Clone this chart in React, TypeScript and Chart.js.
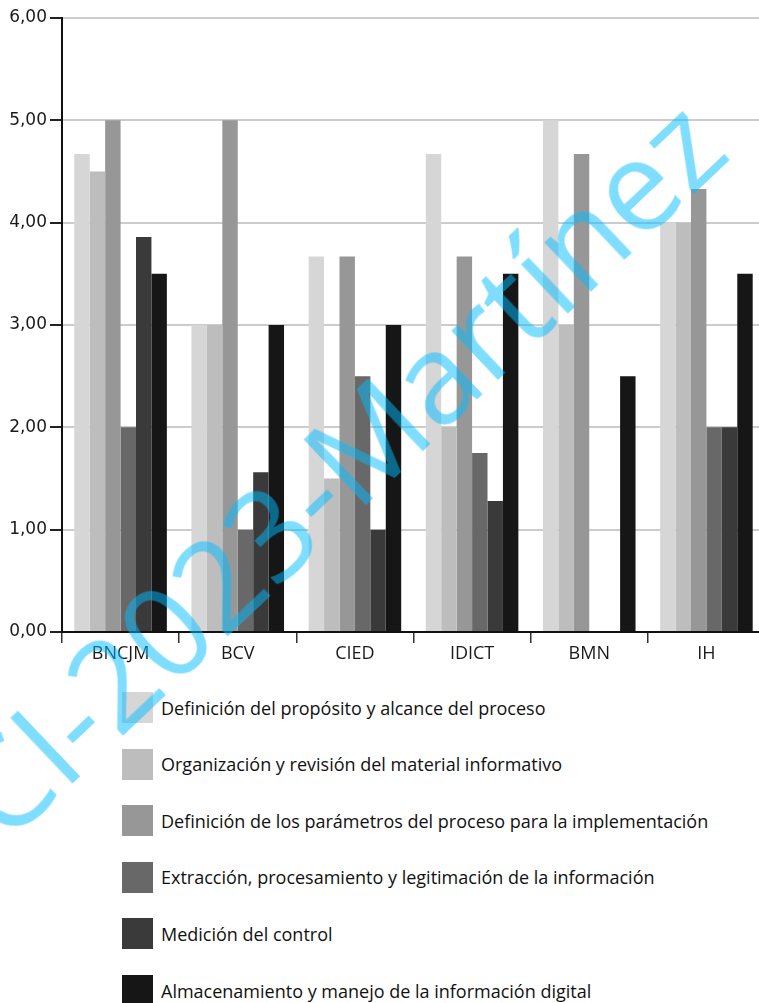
import React, { useEffect, useRef } from "react";
import { Chart, registerables } from "chart.js";

Chart.register(...registerables);

const categories = ["BNCJM", "BCV", "CIED", "IDICT", "BMN", "IH"];
const seriesNames = [
  "Definición del propósito y alcance del proceso",
  "Organización y revisión del material informativo",
  "Definición de los parámetros del proceso para la implementación",
  "Extracción, procesamiento y legitimación de la información",
  "Medición del control",
  "Almacenamiento y manejo de la información digital",
];
const proposito = [4.67, 3.0, 3.67, 4.67, 5.0, 4.0];
const organizacion = [4.5, 3.0, 1.5, 2.0, 3.0, 4.0];
const parametros = [5.0, 5.0, 3.67, 3.67, 4.67, 4.33];
const extraccion = [2.0, 1.0, 2.5, 1.75, 0, 2.0];
const medicion = [3.86, 1.56, 1.0, 1.28, 0, 2.0];
const almacenamiento = [3.5, 3.0, 3.0, 3.5, 2.5, 3.5];
const seriesValues = [proposito, organizacion, parametros, extraccion, medicion, almacenamiento];
const colors = ["#d6d6d6", "#bdbdbd", "#979797", "#686868", "#3a3a3a", "#161616"];
const yTicks = [0, 1, 2, 3, 4, 5, 6];
const watermark = "CI-2023-Martínez";

export default function App() {
  const ref = useRef<HTMLCanvasElement | null>(null);

  useEffect(() => {
    if (!ref.current) return;
    const chart = new Chart(ref.current, {
      type: "bar",
      data: {
        labels: categories,
        datasets: seriesValues.map((vals, i) => ({
          label: seriesNames[i],
          data: vals,
          backgroundColor: colors[i],
          borderWidth: 0,
          categoryPercentage: 0.79,
          barPercentage: 1.0,
        })),
      },
      options: {
        responsive: false,
        animation: false,
        maintainAspectRatio: false,
        layout: { padding: { top: 18, right: 0, bottom: 0, left: 0 } },
        plugins: { legend: { display: false }, tooltip: { enabled: false } },
        scales: {
          x: {
            grid: {
              display: true,
              drawOnChartArea: false,
              drawTicks: true,
              tickLength: 11,
              color: "#333333",
              lineWidth: 1.5,
              offset: true,
            },
            border: { display: true, color: "#111111", width: 2 },
            ticks: {
              color: "#1a1a1a",
              padding: 0,
              font: { family: "Open Sans", size: 18 },
            },
            afterFit: (s: any) => {
              s.height = 48;
            },
          },
          y: {
            min: 0,
            max: 6,
            afterBuildTicks: (s: any) => {
              s.ticks = yTicks.map((v) => ({ value: v }));
            },
            grid: {
              color: "#cccccc",
              lineWidth: 2,
              tickColor: "#222222",
              tickLength: 12,
            },
            border: { display: true, color: "#111111", width: 2 },
            ticks: {
              color: "#1a1a1a",
              padding: 3,
              font: { family: "DejaVu Sans", size: 17 },
              callback: (v: any) => Number(v).toFixed(2).replace(".", ","),
            },
            afterFit: (s: any) => {
              s.width = 62;
            },
          },
        },
      },
    });
    return () => chart.destroy();
  }, []);

  return (
    <div
      style={{
        position: "absolute",
        left: 0,
        top: 0,
        width: 759,
        height: 1003,
        overflow: "hidden",
        background: "#ffffff",
      }}
    >
      <canvas ref={ref} width={765} height={680} style={{ position: "absolute", left: 0, top: 0 }} />
      {seriesNames.map((name, i) => (
        <div
          key={name}
          style={{
            position: "absolute",
            left: 122,
            top: 692 + i * 56.6,
            height: 31,
            display: "flex",
            alignItems: "center",
            whiteSpace: "nowrap",
          }}
        >
          <div style={{ width: 31, height: 31, background: colors[i], flex: "none" }} />
          <span
            style={{
              marginLeft: 8,
              fontFamily: "Open Sans",
              fontSize: 18,
              color: "#111111",
            }}
          >
            {name}
          </span>
        </div>
      ))}
      <div
        style={{
          position: "absolute",
          left: 336,
          top: 466,
          transform: "translate(-50%, -50%) rotate(-43.5deg)",
          fontFamily: "Open Sans",
          fontSize: 126,
          color: "rgba(0, 190, 255, 0.5)",
          whiteSpace: "nowrap",
          pointerEvents: "none",
          lineHeight: 1,
        }}
      >
        {watermark}
      </div>
    </div>
  );
}
